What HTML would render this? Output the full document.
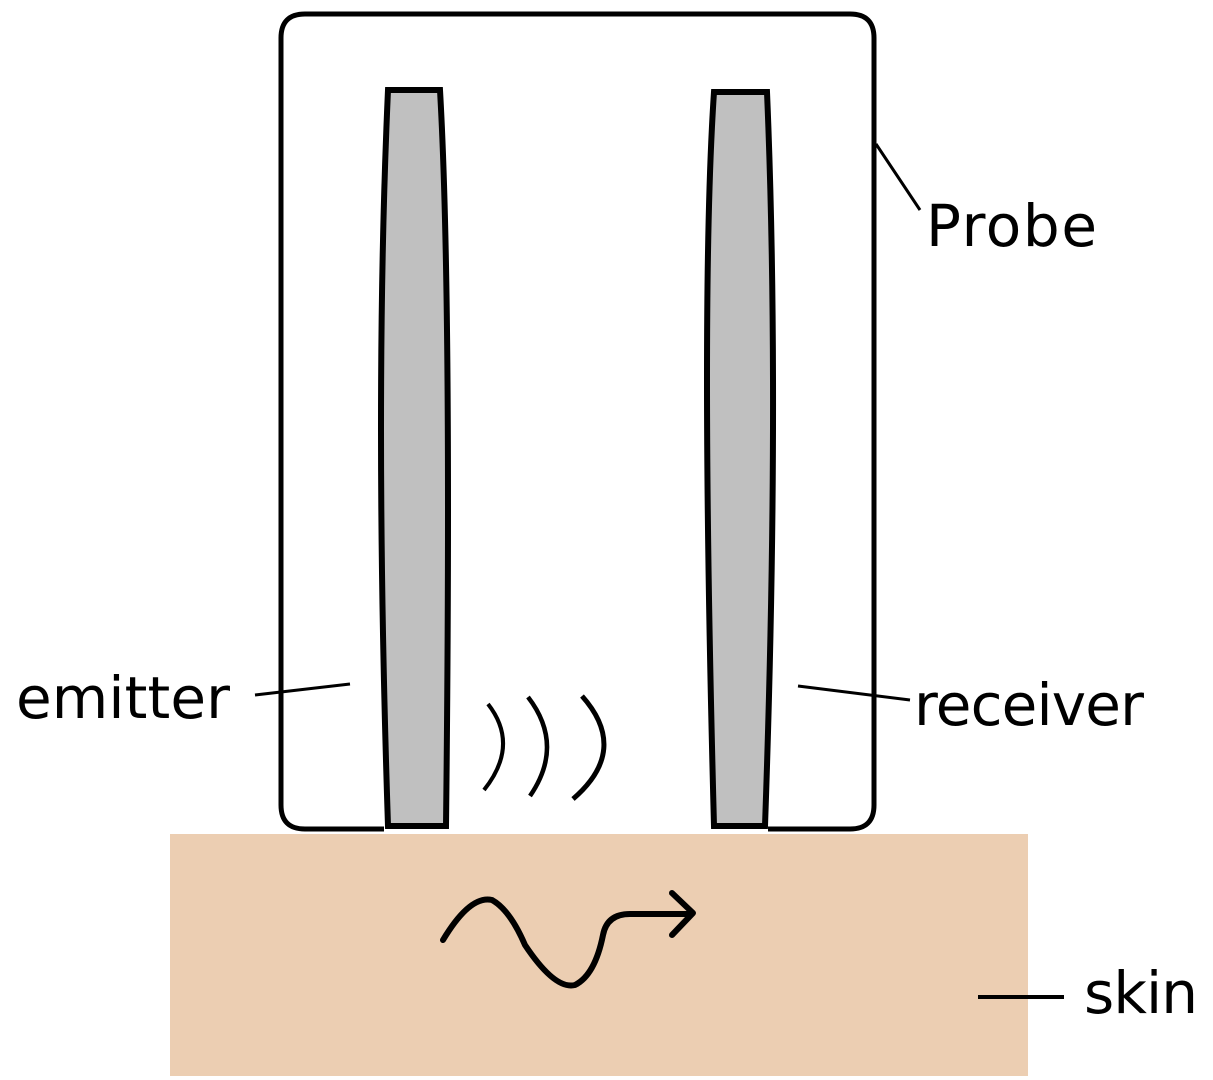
<!DOCTYPE html>
<html><head><style>body{margin:0;background:#fff}svg{display:block}</style></head><body>
<svg width="1213" height="1080" viewBox="0 0 1213 1080" xmlns="http://www.w3.org/2000/svg">
<rect width="1213" height="1080" fill="#fff"/>
<rect x="170" y="834" width="858" height="242" fill="#ecceb2"/>
<path d="M384 829 L305 829 Q281 829 281 805 L281 38 Q281 14 305 14 L850 14 Q874 14 874 38 L874 805 Q874 829 850 829 L768 829" fill="none" stroke="#000" stroke-width="5"/>
<path d="M388 90 L440 90 Q452 300 446 826 L388 826 Q374 400 388 90 Z" fill="#c0c0c0" stroke="#000" stroke-width="6"/>
<path d="M714 92 L767 92 Q780 400 765 826 L714 826 Q700 300 714 92 Z" fill="#c0c0c0" stroke="#000" stroke-width="6"/>
<path d="M488 704 Q520 745 484 790" fill="none" stroke="#000" stroke-width="4"/>
<path d="M528 697 Q565 745 530 796" fill="none" stroke="#000" stroke-width="4.5"/>
<path d="M582 696 Q630 750 573 799" fill="none" stroke="#000" stroke-width="5"/>
<path d="M443 940 Q470 895 492 900 Q510 910 525 945 Q555 990 575 985 Q595 975 603 935 Q607 914 630 914 L690 914" fill="none" stroke="#000" stroke-width="6" stroke-linecap="round"/>
<path d="M672 893 L693 913 L672 935" fill="none" stroke="#000" stroke-width="6" stroke-linecap="round" stroke-linejoin="round"/>
<line x1="876" y1="144" x2="920" y2="210" stroke="#000" stroke-width="3"/>
<line x1="255" y1="695" x2="350" y2="684" stroke="#000" stroke-width="3"/>
<line x1="798" y1="686" x2="910" y2="700" stroke="#000" stroke-width="3"/>
<line x1="978" y1="997" x2="1064" y2="997" stroke="#000" stroke-width="4"/>
<g font-family="'DejaVu Sans','Liberation Sans',sans-serif" font-size="58" fill="#000">
<text x="926" y="246" textLength="171">Probe</text>
<text x="16" y="718" textLength="214">emitter</text>
<text x="914" y="725" textLength="230">receiver</text>
<text x="1084" y="1013" textLength="114">skin</text>
</g>
</svg>
</body></html>
